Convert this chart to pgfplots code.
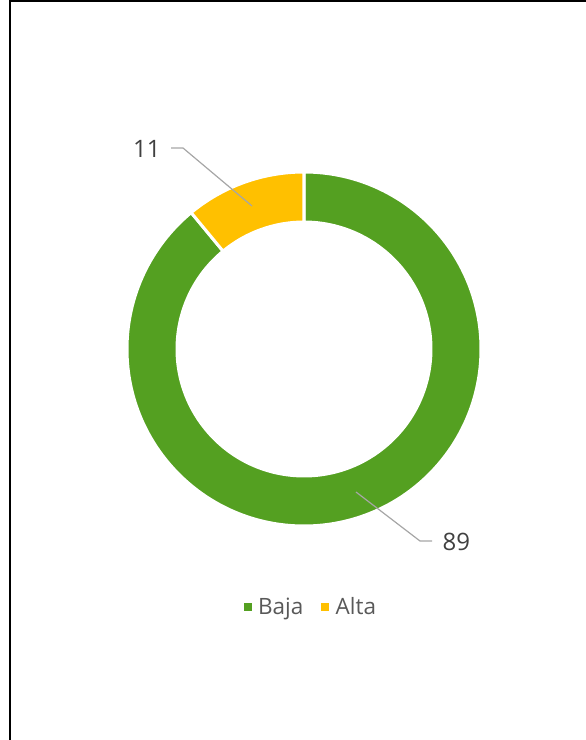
\documentclass[border=0pt]{standalone}
\usepackage{pgfplots}
\pgfplotsset{compat=1.18}
\usepackage{pgfplotstable}
\usepackage{fontspec}
\setmainfont{Open Sans}
\definecolor{baja}{HTML}{54A021}
\definecolor{alta}{HTML}{FFC000}
\definecolor{lead}{HTML}{A6A6A6}
\definecolor{lbl}{HTML}{404040}
\definecolor{leg}{HTML}{595959}
\pgfplotstableread{
label value
Baja 89
Alta 11
}\donut
\pgfplotstablegetelem{0}{value}\of\donut \let\vBaja\pgfplotsretval
\pgfplotstablegetelem{1}{value}\of\donut \let\vAlta\pgfplotsretval
\pgfmathsetmacro\total{\vBaja+\vAlta}
\pgfmathsetmacro\aStart{90}
\pgfmathsetmacro\aMid{90-\vBaja/\total*360}
\pgfmathsetmacro\aEnd{\aMid-\vAlta/\total*360}
\begin{document}
\begin{tikzpicture}
\begin{axis}[
  name=ax,
  at={(0,0)}, anchor=south west,
  width=586pt, height=740pt, scale only axis,
  xmin=0, xmax=586, ymin=0, ymax=740,
  hide axis, clip=false,
  legend style={at={(0.5307,0.1797)}, anchor=center, draw=none, fill=none,
    legend columns=2, font=\fontsize{22.5}{26}\selectfont, text=leg,
    /tikz/every odd column/.append style={column sep=5pt},
    /tikz/every even column/.append style={column sep=16pt}},
  legend cell align=left,
]
\addlegendimage{only marks, mark=square*, mark size=3.6pt, color=baja}
\addlegendentry{Baja}
\addlegendimage{only marks, mark=square*, mark size=3.6pt, color=alta}
\addlegendentry{Alta}
% donut slices
\fill[baja, draw=white, line width=3pt]
  ([shift={(\aStart:177pt)}]axis cs:304,391) arc[start angle=\aStart, end angle=\aMid, radius=177pt]
  -- ([shift={(\aMid:127pt)}]axis cs:304,391) arc[start angle=\aMid, end angle=\aStart, radius=127pt] -- cycle;
\fill[alta, draw=white, line width=3pt]
  ([shift={(\aMid:177pt)}]axis cs:304,391) arc[start angle=\aMid, end angle=\aEnd, radius=177pt]
  -- ([shift={(\aEnd:127pt)}]axis cs:304,391) arc[start angle=\aEnd, end angle=\aMid, radius=127pt] -- cycle;
% leader lines
\addplot[lead, line width=1.2pt, no marks] coordinates {(252,534) (183,592) (171,592)};
\addplot[lead, line width=1.2pt, no marks] coordinates {(356,248) (420,199) (432,199)};
\node[text=lbl, font=\fontsize{24}{28}\selectfont, anchor=east] at (axis cs:164,591) {11};
\node[text=lbl, font=\fontsize{24}{28}\selectfont, anchor=west] at (axis cs:439,198) {89};
% frame lines
\draw[black, line width=2pt] (axis cs:9,739) -- (axis cs:586,739);
\draw[black, line width=2pt] (axis cs:10,740) -- (axis cs:10,0);
\end{axis}
\pgfresetboundingbox
\useasboundingbox (ax.south west) rectangle (ax.north east);
\end{tikzpicture}
\end{document}
